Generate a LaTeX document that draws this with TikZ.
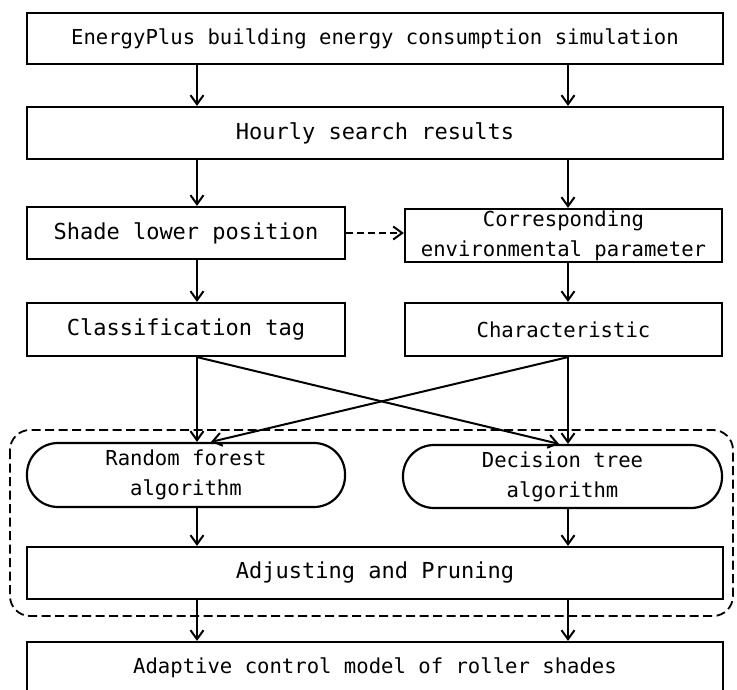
\documentclass[tikz,border=0pt]{standalone}
\usepackage{fontspec}
\setmainfont{DejaVu Sans Mono}
\usetikzlibrary{arrows.meta}
\newcommand\myfa{\fontsize{20.6}{30}\selectfont}
\newcommand\myfb{\fontsize{22}{30}\selectfont}
\tikzset{
  box/.style={draw, line width=2.2pt, inner sep=0pt, align=center, font=\myfa},
  stad/.style={box, rounded corners=31pt},
  arr/.style={line width=2pt, -{Straight Barb[length=9pt,width=13pt,line width=2pt]}},
  dasharr/.style={arr, dash pattern=on 7pt off 4pt},
  groupframe/.style={line width=1.8pt, dash pattern=on 9pt off 4.5pt, rounded corners=20pt}
}
\begin{document}
\begin{tikzpicture}[x=1pt,y=-1pt]
\clip (0,0) rectangle (737,690);
\fill[white] (0,0) rectangle (737,690);
\coordinate (c1) at (197,0);
\coordinate (c2) at (568,0);
\coordinate (t1) at (211,0);
\coordinate (t2) at (559,0);

\node[box, minimum width=696pt, minimum height=51pt] (b1) at (375,38.5) {EnergyPlus building energy consumption simulation};
\node[box, minimum width=696pt, minimum height=52pt, font=\myfb] (b2) at (375,133) {Hourly search results};
\node[box, minimum width=318pt, minimum height=52pt, font=\myfb] (b3) at (186,233) {Shade lower position};
\node[box, minimum width=317pt, minimum height=53pt] (b4) at (563.5,235.5) {Corresponding\\environmental parameter};
\node[box, minimum width=318pt, minimum height=53pt, font=\myfb] (b5) at (186,329.5) {Classification tag};
\node[box, minimum width=317pt, minimum height=53pt] (b6) at (563.5,329.5) {Characteristic};
\node[stad, minimum width=318pt, minimum height=64pt] (e1) at (186,475) {Random forest\\algorithm};
\node[stad, minimum width=319pt, minimum height=63pt] (e2) at (562.5,476.5) {Decision tree\\algorithm};
\node[box, minimum width=696pt, minimum height=52pt, font=\myfb] (b7) at (375,573) {Adjusting and Pruning};
\node[box, minimum width=696pt, minimum height=52pt] (b8) at (375,668) {Adaptive control model of roller shades};

\draw[groupframe] (10,430) rectangle (733,616);

\draw[arr] (b1.south -| c1) -- (b2.north -| c1);
\draw[arr] (b1.south -| c2) -- (b2.north -| c2);
\draw[arr] (b2.south -| c1) -- (b3.north -| c1);
\draw[arr] (b2.south -| c2) -- (b4.north -| c2);
\draw[dasharr] (b3.east) -- (b3.east -| b4.west);
\draw[arr] (b3.south -| c1) -- (b5.north -| c1);
\draw[arr] (b4.south -| c2) -- (b6.north -| c2);
\draw[arr] (b5.south -| c1) -- (e1.north -| c1);
\draw[arr] (b6.south -| c2) -- (e2.north -| c2);
\draw[arr] (b5.south -| c1) -- (e2.north -| t2);
\draw[arr] (b6.south -| c2) -- (e1.north -| t1);
\draw[arr] (e1.south -| c1) -- (b7.north -| c1);
\draw[arr] (e2.south -| c2) -- (b7.north -| c2);
\draw[arr] (b7.south -| c1) -- (b8.north -| c1);
\draw[arr] (b7.south -| c2) -- (b8.north -| c2);
\end{tikzpicture}
\end{document}
